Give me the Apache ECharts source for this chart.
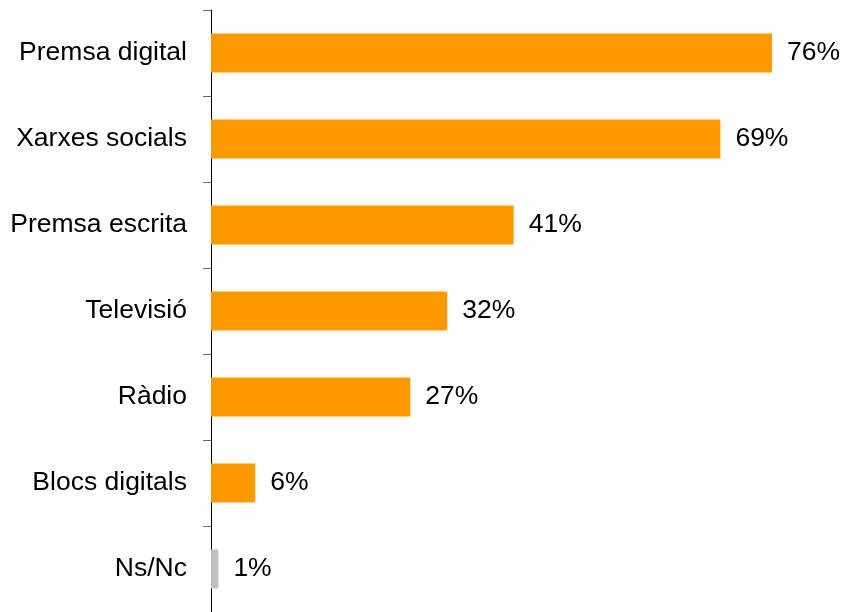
<!DOCTYPE html>
<html>
<head>
<meta charset="utf-8">
<style>
  html, body { margin: 0; padding: 0; background: #ffffff; }
  #chart { width: 844px; height: 612px; }
</style>
<script src="https://cdn.jsdelivr.net/npm/echarts@6/dist/echarts.min.js"></script>
</head>
<body>
<div id="chart"></div>
<script>
// Media sources (percentages of respondents)
const categories = ['Premsa digital', 'Xarxes socials', 'Premsa escrita', 'Televisió', 'Ràdio', 'Blocs digitals', 'Ns/Nc'];
const values = [76, 69, 41, 32, 27, 6, 1];
const noAnswerCategory = 'Ns/Nc';

const ORANGE = '#FF9900';
const GREY = '#C0C0C0';
const FONT = 'Arial, "Liberation Sans", Helvetica, sans-serif';

const chart = echarts.init(document.getElementById('chart'), null, { renderer: 'canvas' });

chart.setOption({
  animation: false,
  backgroundColor: '#ffffff',
  grid: { left: 211, right: 42.4, top: 10, bottom: -1.5, containLabel: false },
  xAxis: {
    type: 'value',
    min: 0,
    max: 80,
    show: false
  },
  yAxis: {
    type: 'category',
    data: categories,
    inverse: true,
    axisLine: { show: true, lineStyle: { color: '#000000', width: 1 } },
    axisTick: { show: true, length: 8, lineStyle: { color: '#6a6a6a', width: 1 } },
    axisLabel: {
      margin: 24,
      color: '#000000',
      fontSize: 26.5,
      fontFamily: FONT
    },
    splitLine: { show: false }
  },
  series: [{
    type: 'bar',
    data: values,
    barWidth: 39,
    itemStyle: {
      color: function (p) {
        return categories[p.dataIndex] === noAnswerCategory ? GREY : ORANGE;
      }
    },
    label: {
      show: true,
      position: 'right',
      distance: 15,
      color: '#000000',
      fontSize: 26.5,
      fontFamily: FONT,
      formatter: function (p) { return p.value + '%'; }
    }
  }]
});
</script>
</body>
</html>
